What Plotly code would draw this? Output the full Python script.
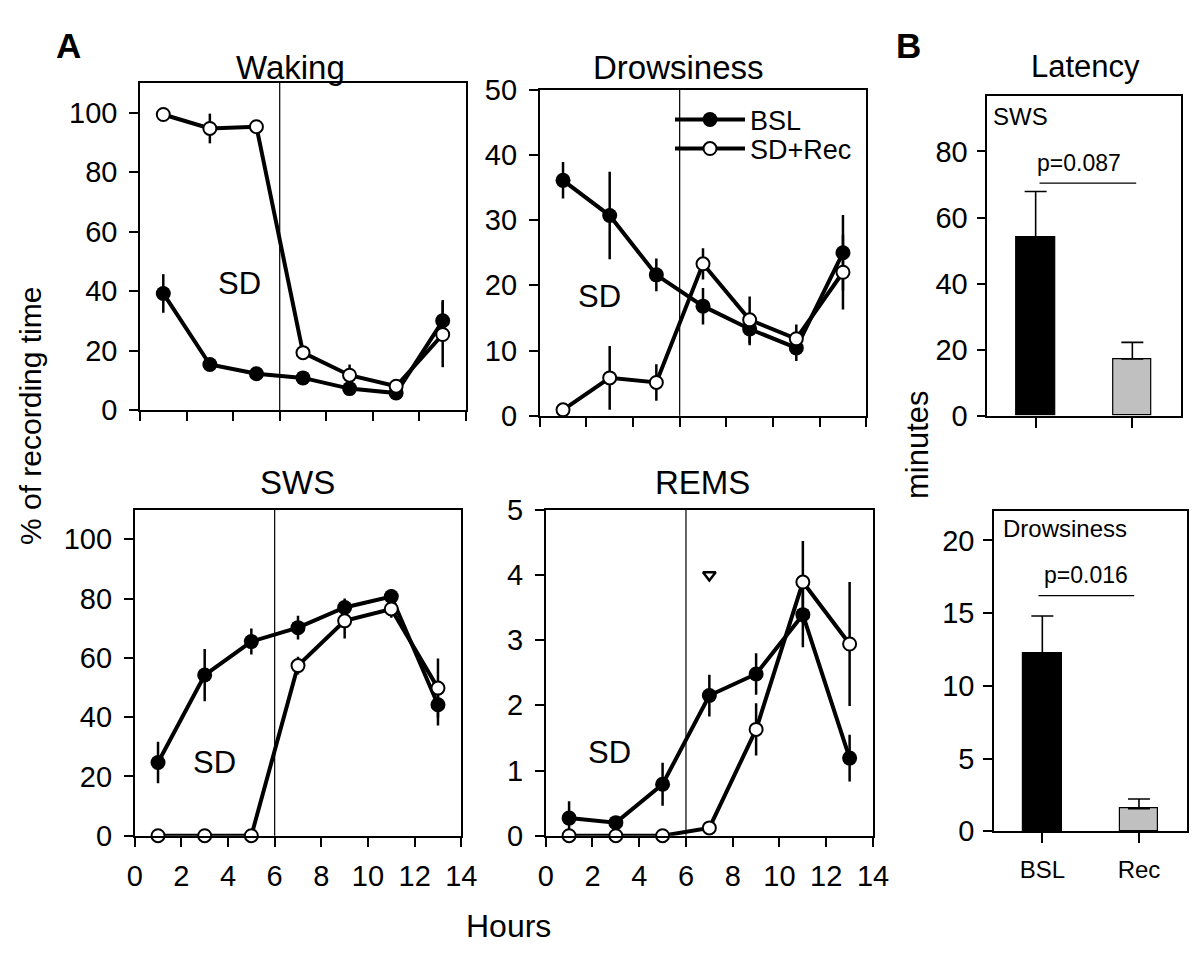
import plotly.graph_objects as go

# ---------------- data ----------------
hours = [1, 3, 5, 7, 9, 11, 13]
x_ticks = [0, 2, 4, 6, 8, 10, 12, 14]

wake_bsl = [39.2, 15.3, 12.2, 10.8, 7.2, 5.7, 30.0]
wake_bsl_err = [6.5, 1.5, 1.5, 1.5, 1.5, 1.2, 7.0]
wake_sd = [99.4, 94.7, 95.3, 19.3, 11.7, 8.0, 25.4]
wake_sd_err = [1.0, 5.0, 1.0, 1.5, 3.6, 1.5, 11.0]

drow_bsl = [36.1, 30.7, 21.6, 16.8, 13.3, 10.4, 25.0]
drow_bsl_err = [2.8, 6.7, 2.5, 2.8, 2.5, 2.0, 5.8]
drow_sd = [0.9, 5.8, 5.1, 23.3, 14.7, 11.8, 22.0]
drow_sd_err = [0.3, 4.9, 2.8, 2.4, 3.6, 2.2, 5.7]

sws_bsl = [24.7, 54.2, 65.5, 70.2, 77.0, 80.7, 44.2]
sws_bsl_err = [7.0, 8.8, 4.4, 4.0, 3.0, 2.5, 7.0]
sws_sd = [0, 0, 0, 57.4, 72.5, 76.5, 49.8]
sws_sd_err = [0, 0, 0, 3.0, 6.0, 3.0, 10.0]

rems_bsl = [0.27, 0.20, 0.79, 2.15, 2.48, 3.39, 1.19]
rems_bsl_err = [0.26, 0.08, 0.33, 0.32, 0.32, 0.5, 0.36]
rems_sd = [0, 0, 0, 0.12, 1.63, 3.89, 2.94]
rems_sd_err = [0, 0, 0, 0.05, 0.40, 0.63, 0.95]

rems_mark_x = [7]
rems_mark_y = [4.0]

lat_groups = ["BSL", "Rec"]
lat_pos = [0, 1]
lat_sws = [54.0, 17.2]
lat_sws_err = [13.9, 5.0]
lat_drow = [12.27, 1.56]
lat_drow_err = [2.53, 0.66]
p_sws = "p=0.087"
p_drow = "p=0.016"
p_sws_y = 70.4
p_drow_y = 16.2

FONT = "Liberation Sans, Arial, sans-serif"
W, H = 1200, 953


def dx(a, b):
    return [a / W, b / W]


def dy(top, bottom):
    return [1 - bottom / H, 1 - top / H]


fig = go.Figure()

panels = [
    ("x", "y", wake_bsl, wake_bsl_err, wake_sd, wake_sd_err),
    ("x2", "y2", drow_bsl, drow_bsl_err, drow_sd, drow_sd_err),
    ("x3", "y3", sws_bsl, sws_bsl_err, sws_sd, sws_sd_err),
    ("x4", "y4", rems_bsl, rems_bsl_err, rems_sd, rems_sd_err),
]

for i, (xa, ya, b, be, s, se) in enumerate(panels):
    fig.add_trace(go.Scatter(
        x=hours, y=b, xaxis=xa, yaxis=ya, mode="lines+markers", name="BSL",
        line=dict(color="black", width=4),
        marker=dict(symbol="circle", size=15, color="black", line=dict(width=0)),
        error_y=dict(type="data", array=be, visible=True, color="black", thickness=2.5, width=0),
        cliponaxis=False, showlegend=(i == 1), legend="legend"))
    fig.add_trace(go.Scatter(
        x=hours, y=s, xaxis=xa, yaxis=ya, mode="lines+markers", name="SD+Rec",
        line=dict(color="black", width=4),
        marker=dict(symbol="circle", size=13, color="white", line=dict(width=2, color="black")),
        error_y=dict(type="data", array=se, visible=True, color="black", thickness=2.5, width=0),
        cliponaxis=False, showlegend=(i == 1), legend="legend2"))

fig.add_trace(go.Scatter(
    x=rems_mark_x, y=rems_mark_y, xaxis="x4", yaxis="y4", mode="markers",
    marker=dict(symbol="triangle-down-open", size=11, color="black", line=dict(width=2.5)),
    showlegend=False))

fig.add_trace(go.Bar(
    x=lat_pos, y=lat_sws, xaxis="x5", yaxis="y5", width=0.4,
    marker=dict(color=["black", "#c0c0c0"], line=dict(color="black", width=1.2)),
    error_y=dict(type="data", array=lat_sws_err, arrayminus=[0, 0], symmetric=False,
                 visible=True, color="black", thickness=1.6, width=11),
    showlegend=False))
fig.add_trace(go.Bar(
    x=lat_pos, y=lat_drow, xaxis="x6", yaxis="y6", width=0.4,
    marker=dict(color=["black", "#c0c0c0"], line=dict(color="black", width=1.2)),
    error_y=dict(type="data", array=lat_drow_err, arrayminus=[0, 0], symmetric=False,
                 visible=True, color="black", thickness=1.6, width=11),
    showlegend=False))

axis_common = dict(showline=True, linewidth=1.6, linecolor="black", mirror=True,
                   ticks="outside", ticklen=9, tickwidth=1.6, tickcolor="black",
                   showgrid=False, zeroline=False, automargin=False,
                   tickfont=dict(family=FONT, size=29, color="black"))

xdom = {"x": dx(132, 458), "x2": dx(531.7, 858.3), "x3": dx(126.7, 453.3), "x4": dx(537.7, 865)}
ydom = {"y": dy(75, 402), "y2": dy(81.7, 407.7), "y3": dy(501.7, 827.7), "y4": dy(501.7, 827.7)}
yranges = {"y": [0, 110], "y2": [0, 50], "y3": [0, 110], "y4": [0, 5]}
yticks = {"y": [0, 20, 40, 60, 80, 100], "y2": [0, 10, 20, 30, 40, 50],
          "y3": [0, 20, 40, 60, 80, 100], "y4": [0, 1, 2, 3, 4, 5]}

layout_axes = {}
for k, (xa, ya) in enumerate([("x", "y"), ("x2", "y2"), ("x3", "y3"), ("x4", "y4")]):
    xname = "xaxis" if xa == "x" else "xaxis" + xa[1:]
    yname = "yaxis" if ya == "y" else "yaxis" + ya[1:]
    layout_axes[xname] = dict(axis_common, domain=xdom[xa], anchor=ya, range=[0, 14],
                              tickvals=x_ticks, showticklabels=(k >= 2), ticklabelstandoff=5)
    layout_axes[yname] = dict(axis_common, domain=ydom[ya], anchor=xa, range=yranges[ya],
                              tickvals=yticks[ya], ticklabelstandoff=6)

layout_axes["xaxis5"] = dict(axis_common, domain=dx(979.3, 1172.7), anchor="y5", range=[-0.5, 1.5],
                             tickvals=lat_pos, ticktext=lat_groups, showticklabels=False, ticklen=10)
layout_axes["yaxis5"] = dict(axis_common, domain=dy(88.3, 407.7), anchor="x5", range=[0, 96.7],
                             tickvals=[0, 20, 40, 60, 80], ticklabelstandoff=3)
layout_axes["xaxis6"] = dict(axis_common, domain=dx(986, 1179.3), anchor="y6", range=[-0.5, 1.5],
                             tickvals=lat_pos, ticktext=lat_groups, ticklen=10, ticklabelstandoff=6,
                             tickfont=dict(family=FONT, size=24, color="black"))
layout_axes["yaxis6"] = dict(axis_common, domain=dy(503.3, 823.3), anchor="x6", range=[0, 22],
                             tickvals=[0, 5, 10, 15, 20], ticklabelstandoff=3)

shapes = []
for xa in ["x", "x2", "x3", "x4"]:
    shapes.append(dict(type="line", xref=xa, yref=("y" if xa == "x" else "y" + xa[1:]) + " domain",
                       x0=6, x1=6, y0=0, y1=1, line=dict(color="black", width=1.2)))
shapes.append(dict(type="line", xref="x5", yref="y5", x0=0.04, x1=1.04, y0=p_sws_y, y1=p_sws_y,
                   line=dict(color="black", width=1.2)))
shapes.append(dict(type="line", xref="x6", yref="y6", x0=-0.04, x1=0.95, y0=p_drow_y, y1=p_drow_y,
                   line=dict(color="black", width=1.2)))


def ann(text, x, y, size, xref="paper", yref="paper", bold=False, angle=0, xanchor="center"):
    if xref == "paper":
        x = x / W
    if yref == "paper":
        y = 1 - y / H
    return dict(text=("<b>%s</b>" % text) if bold else text, x=x, y=y, xref=xref, yref=yref,
                showarrow=False, xanchor=xanchor, yanchor="middle", textangle=angle,
                font=dict(family=FONT, size=size, color="black"))


annotations = [
    ann("A", 60, 37, 35, bold=True),
    ann("B", 900, 37, 35, bold=True),
    ann("Waking", 282.5, 60, 33),
    ann("Drowsiness", 670, 60, 33),
    ann("SWS", 289, 474, 33),
    ann("REMS", 694, 474, 33),
    ann("Latency", 1077, 59, 31),
    ann("SD", 4.28, 42.7, 31, xref="x", yref="y"),
    ann("SD", 2.57, 18.3, 31, xref="x2", yref="y2"),
    ann("SD", 3.43, 24.7, 31, xref="x3", yref="y3"),
    ann("SD", 2.74, 1.27, 31, xref="x4", yref="y4"),
    ann("% of recording time", 22, 408, 30, angle=-90),
    ann("Hours", 500, 918, 32),
    ann("minutes", 910, 437, 31, angle=-90),
    ann("SWS", 983, 109, 24, xanchor="left"),
    ann("Drowsiness", 993, 520, 24, xanchor="left"),
    ann(p_sws, 0.45, p_sws_y + 6.2, 23, xref="x5", yref="y5"),
    ann(p_drow, 0.45, p_drow_y + 1.45, 23, xref="x6", yref="y6"),
]

leg_common = dict(xanchor="left", yanchor="middle", bgcolor="rgba(0,0,0,0)", itemwidth=70,
                  font=dict(family=FONT, size=27, color="black"), borderwidth=0)

fig.update_layout(
    width=W, height=H, margin=dict(l=0, r=0, t=0, b=0, pad=0, autoexpand=False),
    paper_bgcolor="white", plot_bgcolor="white",
    font=dict(family=FONT, color="black"),
    shapes=shapes, annotations=annotations,
    legend=dict(leg_common, x=662 / W, y=1 - 112 / H),
    legend2=dict(leg_common, x=662 / W, y=1 - 141 / H),
    bargap=0.0,
    **layout_axes,
)

fig.write_html("out.html")
